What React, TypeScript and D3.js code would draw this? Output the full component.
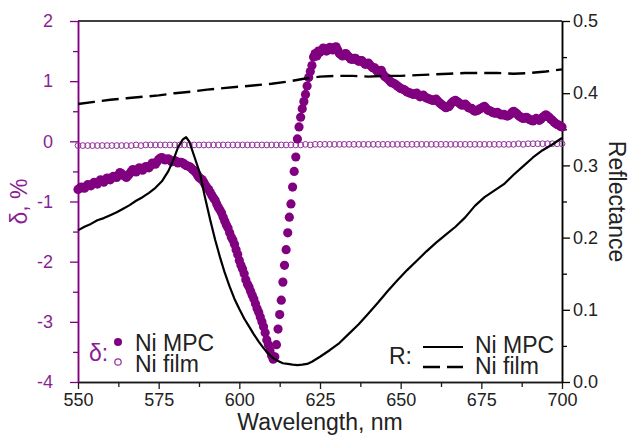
import React, { useEffect, useRef } from 'react';
import * as d3 from 'd3';

const xTicks = [550, 575, 600, 625, 650, 675, 700];
const deltaTicks = [-4, -3, -2, -1, 0, 1, 2];
const reflTicks = [0, 0.1, 0.2, 0.3, 0.4, 0.5];

// delta (%) of Ni MPC, [wavelength nm, delta]
const mpcDelta: [number, number][] = [
  [550, -0.8], [551, -0.76], [552, -0.78], [553, -0.72], [554, -0.74], [555, -0.68], [556, -0.71], [557, -0.64],
  [558, -0.68], [559, -0.61], [560, -0.64], [561, -0.58], [562, -0.6], [563, -0.52], [564, -0.56], [565, -0.6],
  [566, -0.54], [567, -0.47], [568, -0.51], [569, -0.44], [570, -0.48], [571, -0.42], [572, -0.44], [573, -0.36],
  [574, -0.38], [575, -0.3], [576, -0.27], [577, -0.31], [578, -0.29], [579, -0.34], [580, -0.32], [581, -0.36],
  [582, -0.35], [583, -0.38], [584, -0.41], [585, -0.44], [586, -0.49], [587, -0.56], [588, -0.62], [589, -0.68],
  [590, -0.77], [591, -0.85], [592, -0.94], [593, -1.04], [594, -1.14], [595, -1.26], [596, -1.39], [597, -1.52],
  [598, -1.64], [599, -1.8], [600, -1.98], [601, -2.12], [602, -2.3], [603, -2.42], [604, -2.56], [605, -2.7],
  [606, -2.84], [607, -3.0], [608, -3.18], [609, -3.38], [609.5, -3.48], [610, -3.56], [610.5, -3.62], [611, -3.58],
  [611.5, -3.38], [612, -3.12], [612.5, -2.88], [613, -2.64], [613.5, -2.34], [614, -2.06], [614.5, -1.8], [615, -1.52],
  [615.5, -1.26], [616, -1.04], [616.5, -0.76], [617, -0.5], [617.5, -0.26], [618, 0.04], [618.5, 0.24], [619, 0.4],
  [619.5, 0.54], [620, 0.66], [620.5, 0.78], [621, 0.92], [621.5, 1.06], [622, 1.16], [622.5, 1.26], [623, 1.4],
  [623.5, 1.46], [624, 1.42], [624.5, 1.5], [625, 1.48], [626, 1.55], [627, 1.5], [628, 1.56], [629, 1.52],
  [630, 1.57], [631, 1.46], [632, 1.42], [633, 1.46], [634, 1.4], [635, 1.36], [636, 1.38], [637, 1.33],
  [638, 1.34], [639, 1.28], [640, 1.3], [641, 1.24], [642, 1.22], [643, 1.15], [644, 1.18], [645, 1.08],
  [646, 1.04], [647, 0.98], [648, 0.96], [649, 0.92], [650, 0.88], [651, 0.86], [652, 0.82], [653, 0.8],
  [654, 0.78], [655, 0.8], [656, 0.74], [657, 0.77], [658, 0.72], [659, 0.7], [660, 0.68], [661, 0.7],
  [662, 0.64], [663, 0.6], [664, 0.56], [665, 0.58], [666, 0.65], [667, 0.68], [668, 0.64], [669, 0.6],
  [670, 0.62], [671, 0.56], [672, 0.55], [673, 0.5], [674, 0.52], [675, 0.55], [676, 0.58], [677, 0.52],
  [678, 0.5], [679, 0.47], [680, 0.48], [681, 0.44], [682, 0.45], [683, 0.42], [684, 0.45], [685, 0.5],
  [686, 0.46], [687, 0.41], [688, 0.38], [689, 0.4], [690, 0.36], [691, 0.34], [692, 0.38], [693, 0.35],
  [694, 0.4], [695, 0.44], [696, 0.4], [697, 0.35], [698, 0.3], [699, 0.27], [700, 0.24],
  // half-nm readings
  [550.5, -0.78], [551.5, -0.77], [552.5, -0.75], [553.5, -0.73], [554.5, -0.71], [555.5, -0.69], [556.5, -0.67],
  [557.5, -0.66], [558.5, -0.64], [559.5, -0.62], [560.5, -0.6], [561.5, -0.59], [562.5, -0.56], [563.5, -0.54],
  [564.5, -0.58], [565.5, -0.57], [566.5, -0.5], [567.5, -0.49], [568.5, -0.47], [569.5, -0.46], [570.5, -0.45],
  [571.5, -0.43], [572.5, -0.4], [573.5, -0.37], [574.5, -0.34], [575.5, -0.28], [576.5, -0.29], [577.5, -0.3],
  [578.5, -0.31], [579.5, -0.33], [580.5, -0.34], [581.5, -0.35], [582.5, -0.36], [583.5, -0.4], [584.5, -0.42],
  [585.5, -0.47], [586.5, -0.52], [587.5, -0.6], [588.5, -0.64], [589.5, -0.73], [590.5, -0.8], [591.5, -0.9],
  [592.5, -0.98], [593.5, -1.1], [594.5, -1.19], [595.5, -1.33], [596.5, -1.44], [597.5, -1.59], [598.5, -1.71],
  [599.5, -1.88], [600.5, -2.06], [601.5, -2.2], [602.5, -2.37], [603.5, -2.49], [604.5, -2.62], [605.5, -2.78],
  [606.5, -2.92], [607.5, -3.08], [608.5, -3.3],
  [626.5, 1.53], [627.5, 1.54], [628.5, 1.55], [629.5, 1.56], [630.5, 1.52], [631.5, 1.44], [632.5, 1.45],
  [633.5, 1.43], [634.5, 1.37], [635.5, 1.38], [636.5, 1.35], [637.5, 1.34], [638.5, 1.31], [639.5, 1.29],
  [640.5, 1.27], [641.5, 1.22], [642.5, 1.18], [643.5, 1.17], [644.5, 1.12], [645.5, 1.06], [646.5, 1.01],
  [647.5, 0.97], [648.5, 0.94], [649.5, 0.9], [650.5, 0.87], [651.5, 0.84], [652.5, 0.81], [653.5, 0.79],
  [654.5, 0.79], [655.5, 0.77], [656.5, 0.76], [657.5, 0.74], [658.5, 0.71], [659.5, 0.69], [660.5, 0.69],
  [661.5, 0.67], [662.5, 0.62], [663.5, 0.58], [664.5, 0.57], [665.5, 0.62], [666.5, 0.67], [667.5, 0.66],
  [668.5, 0.62], [669.5, 0.61], [670.5, 0.59], [671.5, 0.55], [672.5, 0.52], [673.5, 0.51], [674.5, 0.54],
  [675.5, 0.57], [676.5, 0.55], [677.5, 0.51], [678.5, 0.48], [679.5, 0.47], [680.5, 0.46], [681.5, 0.44],
  [682.5, 0.43], [683.5, 0.43], [684.5, 0.48], [685.5, 0.48], [686.5, 0.43], [687.5, 0.39], [688.5, 0.39],
  [689.5, 0.38], [690.5, 0.35], [691.5, 0.36], [692.5, 0.36], [693.5, 0.37], [694.5, 0.42], [695.5, 0.42],
  [696.5, 0.37], [697.5, 0.32], [698.5, 0.28], [699.5, 0.25],
];

// delta (%) of Ni film, sampled every 1.5 nm from 550 nm
const filmDeltaStart = 550;
const filmDeltaStep = 1.5;
const filmDelta = [
  -0.07, -0.07, -0.07, -0.07, -0.07, -0.07, -0.07, -0.07, -0.07, -0.07,
  -0.07, -0.07, -0.06, -0.07, -0.06, -0.06, -0.06, -0.06, -0.06, -0.06,
  -0.06, -0.06, -0.06, -0.06, -0.06, -0.06, -0.06, -0.06, -0.06, -0.06,
  -0.06, -0.06, -0.06, -0.06, -0.06, -0.06, -0.06, -0.06, -0.06, -0.06,
  -0.06, -0.06, -0.06, -0.06, -0.06, -0.06, -0.06, -0.05, -0.06, -0.05,
  -0.05, -0.05, -0.05, -0.05, -0.05, -0.05, -0.05, -0.05, -0.05, -0.05,
  -0.05, -0.05, -0.05, -0.05, -0.05, -0.05, -0.05, -0.05, -0.05, -0.05,
  -0.05, -0.05, -0.05, -0.05, -0.05, -0.05, -0.05, -0.05, -0.05, -0.05,
  -0.05, -0.05, -0.05, -0.05, -0.05, -0.05, -0.05, -0.05, -0.05, -0.05,
  -0.05, -0.04, -0.05, -0.04, -0.04, -0.04, -0.04, -0.04, -0.04, -0.04,
  -0.04,
];

// reflectance of Ni MPC
const mpcRefl: [number, number][] = [
  [550, 0.21], [552, 0.215], [554, 0.219], [556, 0.224], [558, 0.227], [560, 0.231], [562, 0.235], [564, 0.24],
  [566, 0.245], [568, 0.251], [570, 0.256], [572, 0.262], [574, 0.269], [576, 0.278], [578, 0.292], [579.5, 0.307],
  [581, 0.325], [582.5, 0.336], [583.5, 0.339], [584.5, 0.333], [586, 0.313], [587.8, 0.289], [589.3, 0.257], [591, 0.224],
  [592.5, 0.197], [594, 0.173], [595.5, 0.151], [597, 0.132], [598.5, 0.115], [600, 0.101], [601.5, 0.088], [603, 0.077],
  [604.5, 0.066], [606, 0.056], [607.5, 0.047], [609, 0.039], [610.5, 0.033], [612, 0.029], [613.5, 0.026], [615, 0.025],
  [616.5, 0.024], [618, 0.0235], [619.5, 0.024], [621, 0.025], [622.5, 0.028], [625, 0.035], [628, 0.044], [631, 0.054],
  [634, 0.067], [637, 0.08], [640, 0.095], [643, 0.11], [646, 0.126], [649, 0.141], [652, 0.155], [655, 0.168],
  [658, 0.181], [661, 0.193], [664, 0.204], [667, 0.215], [670, 0.228], [673, 0.244], [676, 0.256], [679, 0.265],
  [682, 0.274], [685, 0.287], [688, 0.299], [691, 0.311], [694, 0.321], [697, 0.329], [700, 0.338],
];

// reflectance of Ni film
const filmRefl: [number, number][] = [
  [550, 0.385], [555, 0.388], [560, 0.391], [565, 0.393], [570, 0.395], [575, 0.397], [580, 0.4], [585, 0.402],
  [590, 0.405], [595, 0.407], [600, 0.409], [605, 0.411], [610, 0.413], [615, 0.416], [620, 0.42], [625, 0.423],
  [630, 0.424], [635, 0.424], [640, 0.423], [645, 0.424], [650, 0.424], [655, 0.425], [660, 0.426], [665, 0.427],
  [670, 0.428], [675, 0.428], [680, 0.428], [685, 0.427], [690, 0.428], [695, 0.43], [700, 0.433],
];

const W = 629;
const H = 436;
const left = 78, right = 562, top = 21, bottom = 382;
const PURPLE = '#800080';
const INK = '#1a1a1a';
const FONT = '"Liberation Sans", Arial, Helvetica, sans-serif';

export default function App() {
  const ref = useRef<SVGSVGElement | null>(null);

  useEffect(() => {
    if (!ref.current) return;
    const svg = d3.select(ref.current);
    svg.selectAll('*').remove();

    const x = d3.scaleLinear().domain([550, 700]).range([left, right]);
    const yD = d3.scaleLinear().domain([-4, 2]).range([bottom, top]);
    const yR = d3.scaleLinear().domain([0, 0.5]).range([bottom, top]);

    const styleAxis = (g: any, color: string) => {
      g.select('.domain').attr('stroke', color).attr('stroke-width', 1.5);
      g.selectAll('.tick line').attr('stroke', color).attr('stroke-width', 1.3);
      g.selectAll('.tick text').attr('fill', color).style('font-size', '18px').style('font-family', FONT);
    };

    // top frame line
    svg.append('line')
      .attr('x1', left).attr('x2', right).attr('y1', top).attr('y2', top)
      .attr('stroke', '#000').attr('stroke-width', 1.5);

    // minor ticks
    const gxm = svg.append('g').attr('transform', `translate(0,${bottom})`)
      .call(d3.axisBottom(x).tickValues(d3.range(562.5, 700, 25)).tickSize(5).tickSizeOuter(0).tickFormat(() => ''));
    styleAxis(gxm, INK);
    const gym = svg.append('g').attr('transform', `translate(${left},0)`)
      .call(d3.axisLeft(yD).tickValues(d3.range(-3.5, 2, 1)).tickSize(5).tickSizeOuter(0).tickFormat(() => ''));
    styleAxis(gym, PURPLE);
    const grm = svg.append('g').attr('transform', `translate(${right},0)`)
      .call(d3.axisRight(yR).tickValues(d3.range(0.05, 0.5, 0.1)).tickSize(5).tickSizeOuter(0).tickFormat(() => ''));
    styleAxis(grm, '#000');

    // major axes
    const gx = svg.append('g').attr('transform', `translate(0,${bottom})`)
      .call(d3.axisBottom(x).tickValues(xTicks).tickSize(7).tickPadding(4).tickSizeOuter(0).tickFormat((d: any) => String(d)));
    styleAxis(gx, INK);
    gx.selectAll('.tick text').attr('fill', '#222');

    const gy = svg.append('g').attr('transform', `translate(${left},0)`)
      .call(d3.axisLeft(yD).tickValues(deltaTicks).tickSize(8).tickPadding(17).tickSizeOuter(0).tickFormat((d: any) => String(d)));
    styleAxis(gy, PURPLE);
    gy.selectAll('.tick text').attr('fill', '#8a1f93');

    const gr = svg.append('g').attr('transform', `translate(${right},0)`)
      .call(d3.axisRight(yR).tickValues(reflTicks).tickSize(8).tickPadding(3).tickSizeOuter(0).tickFormat(d3.format('.1f') as any));
    styleAxis(gr, '#000');
    gr.selectAll('.tick text').attr('fill', '#222');

    // Ni film delta (open circles)
    svg.append('g').selectAll('circle')
      .data(filmDelta)
      .enter()
      .append('circle')
      .attr('cx', (_d, i) => x(filmDeltaStart + i * filmDeltaStep))
      .attr('cy', d => yD(d))
      .attr('r', 2.9)
      .attr('fill', 'none')
      .attr('stroke', '#93309b')
      .attr('stroke-width', 1);

    // Ni MPC delta (filled)
    svg.append('g').selectAll('circle')
      .data(mpcDelta)
      .enter()
      .append('circle')
      .attr('cx', d => x(d[0]))
      .attr('cy', d => yD(d[1]))
      .attr('r', 4.6)
      .attr('fill', PURPLE);

    const line = d3.line<[number, number]>().x(d => x(d[0])).y(d => yR(d[1]));

    svg.append('path')
      .datum(filmRefl)
      .attr('d', line)
      .attr('fill', 'none')
      .attr('stroke', '#000')
      .attr('stroke-width', 2.4)
      .attr('stroke-dasharray', '17 7');

    svg.append('path')
      .datum(mpcRefl)
      .attr('d', line)
      .attr('fill', 'none')
      .attr('stroke', '#000')
      .attr('stroke-width', 2.2)
      .attr('stroke-linejoin', 'round');

    // axis titles
    svg.append('text')
      .attr('x', (left + right) / 2).attr('y', 430)
      .attr('text-anchor', 'middle')
      .style('font-size', '23px').style('font-family', FONT)
      .attr('fill', '#222')
      .text('Wavelength, nm');

    svg.append('text')
      .attr('transform', `translate(27,${(top + bottom) / 2}) rotate(-90)`)
      .attr('text-anchor', 'middle')
      .style('font-size', '23px').style('font-family', FONT)
      .attr('fill', '#8a1f93')
      .text('δ, %');

    svg.append('text')
      .attr('transform', `translate(609,${(top + bottom) / 2}) rotate(90)`)
      .attr('text-anchor', 'middle')
      .style('font-size', '23px').style('font-family', FONT)
      .attr('fill', '#222')
      .text('Reflectance');

    // delta legend
    const lg = svg.append('g').style('font-family', FONT).style('font-size', '23px');
    lg.append('text').attr('x', 89).attr('y', 361).attr('fill', '#8a1f93').text('δ:');
    lg.append('circle').attr('cx', 118).attr('cy', 342).attr('r', 4).attr('fill', PURPLE);
    lg.append('circle').attr('cx', 118).attr('cy', 362).attr('r', 3.2).attr('fill', 'none').attr('stroke', '#93309b').attr('stroke-width', 1.2);
    lg.append('text').attr('x', 135).attr('y', 351).attr('fill', '#222').text('Ni MPC');
    lg.append('text').attr('x', 135).attr('y', 372).attr('fill', '#222').text('Ni film');

    // reflectance legend
    const lr = svg.append('g').style('font-family', FONT).style('font-size', '23px');
    lr.append('text').attr('x', 389).attr('y', 364).attr('fill', '#222').text('R:');
    lr.append('line').attr('x1', 423).attr('x2', 463).attr('y1', 347).attr('y2', 347)
      .attr('stroke', '#000').attr('stroke-width', 2.2);
    lr.append('line').attr('x1', 423).attr('x2', 463).attr('y1', 367).attr('y2', 367)
      .attr('stroke', '#000').attr('stroke-width', 2.4).attr('stroke-dasharray', '17 7');
    lr.append('text').attr('x', 475).attr('y', 353).attr('fill', '#222').text('Ni MPC');
    lr.append('text').attr('x', 475).attr('y', 374).attr('fill', '#222').text('Ni film');
  }, []);

  return (
    <svg
      ref={ref}
      width={W}
      height={H}
      viewBox={`0 0 ${W} ${H}`}
      style={{ position: 'absolute', left: 0, top: 0, background: '#fff' }}
    />
  );
}
